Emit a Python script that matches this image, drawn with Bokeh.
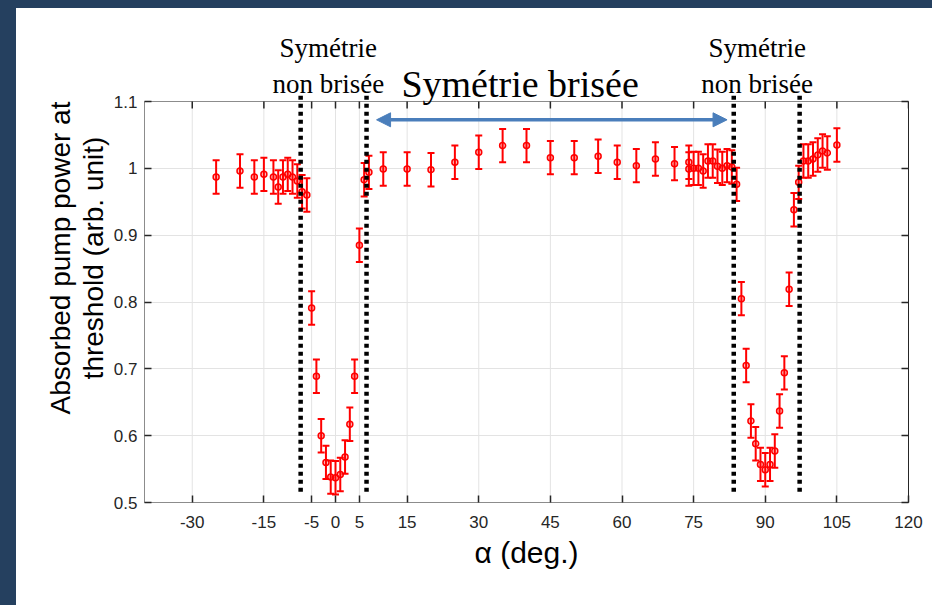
from bokeh.plotting import figure
from bokeh.models import (ColumnDataSource, Whisker, TeeHead, Arrow, NormalHead,
                          FixedTicker, LinearAxis, Range1d)
from bokeh.core.properties import value
from bokeh.layouts import column
from bokeh.embed import file_html
from bokeh.resources import INLINE

# ---------------- data ----------------
alpha = [-25, -20, -17, -15, -13, -12, -11, -10, -9, -8, -7, -6,
         -5, -4, -3, -2, -1, 0, 1, 2, 3, 4, 5, 6, 7,
         10, 15, 20, 25, 30, 35, 40, 45, 50, 55, 59, 63, 67, 71,
         74, 74, 75, 76, 77, 78, 79, 80, 81, 82, 83,
         84, 85, 86, 87, 88, 89, 90, 91, 92, 93, 94, 95, 96, 97,
         98, 99, 100, 101, 102, 103, 105]
power = [0.987, 0.996, 0.987, 0.991, 0.987, 0.972, 0.987, 0.991, 0.987, 0.981, 0.965, 0.960,
         0.791, 0.689, 0.600, 0.560, 0.538, 0.537, 0.542, 0.568, 0.617, 0.689, 0.885, 0.983, 0.994,
         0.999, 0.999, 0.998, 1.009, 1.024, 1.034, 1.034, 1.016, 1.016, 1.018, 1.009, 1.004, 1.014, 1.007,
         1.009, 0.999, 1.000, 1.000, 0.996, 1.011, 1.011, 1.003, 1.000, 1.004, 1.002,
         0.976, 0.805, 0.705, 0.622, 0.588, 0.557, 0.549, 0.557, 0.577, 0.637, 0.694, 0.819, 0.938, 0.979,
         1.011, 1.011, 1.014, 1.020, 1.026, 1.023, 1.035]
err = [0.025] * len(alpha)

x_min, x_max = -40, 120
y_min, y_max = 0.5, 1.1
x_ticks = [-30, -15, -5, 0, 5, 15, 30, 45, 60, 75, 90, 105, 120]
x_tick_labels = ["-30", "-15", "-5", "0", "5", "15", "30", "45", "60", "75", "90", "105", "120"]
y_ticks = [0.5, 0.6, 0.7, 0.8, 0.9, 1.0, 1.1]
y_tick_labels = ["0.5", "0.6", "0.7", "0.8", "0.9", "1", "1.1"]

boundaries = [-7.3, 6.5, 83.4, 97.2]
boundary_y = [0.516, 1.109]
arrow_span = [8.6, 82.0]
arrow_level = 1.0726

small_label_x = [-1.5, 88.3]
small_label_line1 = ["Symétrie", "Symétrie"]
small_label_line2 = ["non brisée", "non brisée"]
big_label_x = [13.8]
big_label = ["Symétrie brisée"]

# ---------------- geometry / styling ----------------
NAVY = "#25405F"
GRID = "#e3e3e3"
TXT = "#262626"
BOX = "#8c8c8c"
FRAME_PX = 401                      # pixel height of the 0.5..1.1 box
PX = (y_max - y_min) / FRAME_PX     # data units per pixel (y)
HEAD_PX = 88                        # room above the box for the region labels
y_top = y_max + HEAD_PX * PX
line1_y = y_max + 54 * PX
line2_y = y_max + 18 * PX
TICK = 7 * PX

p = figure(width=916, height=597, output_backend="svg", toolbar_location=None,
           x_range=Range1d(x_min, x_max), y_range=Range1d(y_min, y_top),
           min_border_left=128, min_border_right=24, min_border_top=5, min_border_bottom=103,
           background_fill_color=None, border_fill_color="white",
           styles={"background-color": "white"})
p.outline_line_color = None
p.margin = (8, 0, 0, 16)

p.xaxis.ticker = FixedTicker(ticks=x_ticks)
p.yaxis.ticker = FixedTicker(ticks=y_ticks)
p.yaxis.bounds = (y_min, y_max)
p.xaxis.major_label_overrides = {t: l for t, l in zip(x_ticks, x_tick_labels)}
p.yaxis.major_label_overrides = {t: l for t, l in zip(y_ticks, y_tick_labels)}
p.xgrid.visible = False
p.ygrid.ticker = FixedTicker(ticks=y_ticks)
p.ygrid.grid_line_color = GRID
p.ygrid.grid_line_width = 1
# vertical grid lines limited to the box
p.segment(x0=x_ticks, x1=x_ticks, y0=[y_min] * len(x_ticks), y1=[y_max] * len(x_ticks),
          line_color=GRID, line_width=1, level="underlay")

for ax in (p.xaxis[0], p.yaxis[0]):
    ax.axis_line_color = BOX
    ax.major_tick_line_color = TXT
    ax.major_tick_line_width = 1.5
    ax.major_tick_in = 7
    ax.major_tick_out = 0
    ax.minor_tick_line_color = None
    ax.major_label_text_font = "Liberation Sans"
    ax.major_label_text_font_size = "17px"
    ax.major_label_text_color = TXT
    ax.axis_label_text_font = "Liberation Sans"
    ax.axis_label_text_font_style = "normal"
    ax.axis_label_text_color = "black"

p.xaxis.axis_label = "α (deg.)"
p.xaxis.axis_label_text_font_size = "30px"
p.xaxis.major_label_standoff = 13
p.xaxis.axis_label_standoff = 5
p.yaxis.axis_label = "Absorbed pump power at\nthreshold (arb. unit)"
p.yaxis.axis_label_text_font_size = "28px"
p.yaxis.axis_label_text_line_height = 1.05
p.yaxis.major_label_standoff = 7
p.yaxis.axis_label_standoff = 2

right = LinearAxis(ticker=FixedTicker(ticks=y_ticks), bounds=(y_min, y_max))
right.axis_line_color = TXT
right.major_tick_line_color = TXT
right.major_tick_line_width = 1.5
right.major_tick_in = 7
right.major_tick_out = 0
right.minor_tick_line_color = None
right.major_label_text_font_size = "1px"
right.major_label_text_color = None
right.major_label_standoff = 0
p.add_layout(right, "right")

# top edge of the box with inward ticks
p.segment(x0=[x_min], x1=[x_max], y0=[y_max], y1=[y_max], line_color=BOX, line_width=1)
p.segment(x0=x_ticks, x1=x_ticks, y0=[y_max] * len(x_ticks), y1=[y_max - TICK] * len(x_ticks),
          line_color=TXT, line_width=1.5)

# error bars + points
src = ColumnDataSource(dict(x=alpha, y=power,
                            lo=[v - e for v, e in zip(power, err)],
                            hi=[v + e for v, e in zip(power, err)]))
w = Whisker(source=src, base="x", lower="lo", upper="hi",
            line_color="#ff0000", line_width=2,
            upper_head=TeeHead(size=7, line_color="#ff0000", line_width=2),
            lower_head=TeeHead(size=7, line_color="#ff0000", line_width=2))
p.add_layout(w)
p.scatter("x", "y", source=src, marker="circle", size=6, line_color="#ff0000",
          line_width=1.5, fill_color="#ff0000", fill_alpha=0.25)

# dotted boundaries
p.segment(x0=boundaries, x1=boundaries, y0=[boundary_y[0]] * 4, y1=[boundary_y[1]] * 4,
          line_color="black", line_width=4.5, line_dash="4 4")

# double arrow
p.add_layout(Arrow(x_start=arrow_span[0], x_end=arrow_span[1], y_start=arrow_level, y_end=arrow_level,
                   line_color="#4a7ebb", line_width=3.5,
                   start=NormalHead(size=14, fill_color="#4a7ebb", line_color="#4a7ebb"),
                   end=NormalHead(size=14, fill_color="#4a7ebb", line_color="#4a7ebb")))

# region labels
hsrc1 = ColumnDataSource(dict(x=small_label_x, y=[line1_y] * 2, t=small_label_line1))
hsrc2 = ColumnDataSource(dict(x=small_label_x, y=[line2_y] * 2, t=small_label_line2))
hsrc3 = ColumnDataSource(dict(x=big_label_x, y=[line2_y], t=big_label))
for s in (hsrc1, hsrc2):
    p.text("x", "y", text="t", source=s, text_align="center", text_baseline="alphabetic",
           text_font=value("Liberation Serif"), text_font_size="27px", text_color="black")
p.text("x", "y", text="t", source=hsrc3, text_align="left", text_baseline="alphabetic",
       text_font=value("Liberation Serif"), text_font_size="38px", text_color="black")

layout = column(p, width=932, height=605, styles={"background-color": NAVY})
open("out.html", "w").write(file_html(layout, INLINE))
